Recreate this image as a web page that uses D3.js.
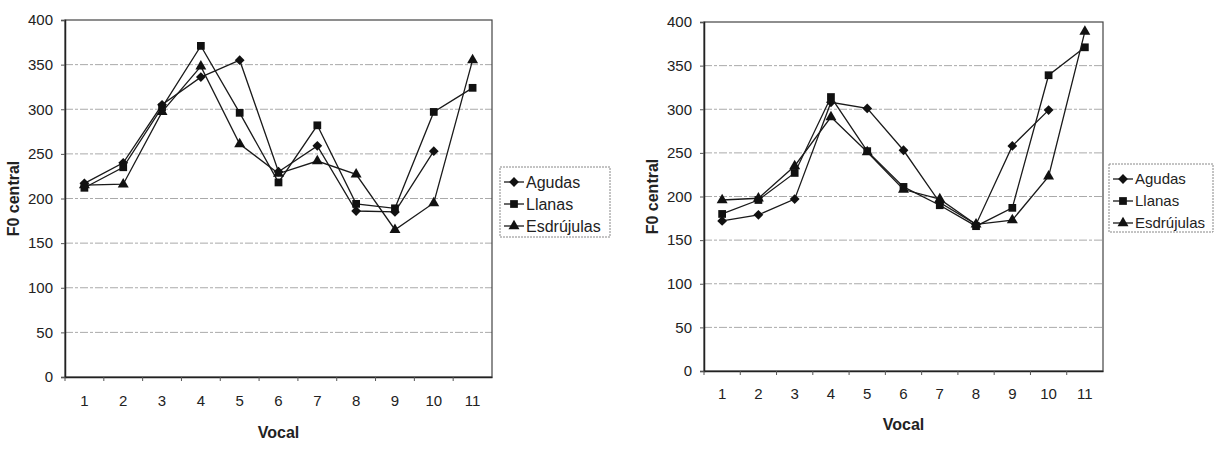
<!DOCTYPE html>
<html>
<head>
<meta charset="utf-8">
<script src="https://cdn.jsdelivr.net/npm/d3@7"></script>
<style>
  body { margin: 0; background: #fff; }
  text { font-family: "Liberation Sans", Arial, sans-serif; fill: #222; }
</style>
</head>
<body>
<script>
var vocales = ["1", "2", "3", "4", "5", "6", "7", "8", "9", "10", "11"];
var seriesNames = ["Agudas", "Llanas", "Esdrújulas"];
var yTicks = [0, 50, 100, 150, 200, 250, 300, 350, 400];

// left chart
var agudasA = [217, 240, 305, 336, 355, 230, 259, 186, 185, 253, null];
var llanasA = [212, 235, 302, 371, 296, 218, 282, 194, 189, 297, 324];
var esdrujulasA = [215, 216, 297, 348, 261, 228, 242, 227, 165, 195, 355];

// right chart
var agudasB = [172, 179, 197, 308, 301, 253, 193, 168, 258, 299, null];
var llanasB = [180, 196, 227, 314, 252, 211, 190, 166, 187, 339, 371];
var esdrujulasB = [196, 198, 235, 291, 251, 208, 197, 168, 173, 223, 389];

var svg = d3.select('body').append('svg')
    .attr('width', 1225)
    .attr('height', 457);

// rhombus like the Excel marker (d3's diamond is too narrow)
var rhombus = {
    draw: function (ctx, size) {
        var r = Math.sqrt(size / 2);
        ctx.moveTo(0, -r);
        ctx.lineTo(r, 0);
        ctx.lineTo(0, r);
        ctx.lineTo(-r, 0);
        ctx.closePath();
    }
};
var symbols = [rhombus, d3.symbolSquare, d3.symbolTriangle];
var symSizes = [48, 60, 52];

function drawChart(opt, series) {
    var g = svg.append('g');

    var x = d3.scaleBand()
        .domain(vocales)
        .range([opt.left, opt.right]);

    var y = d3.scaleLinear()
        .domain([0, 400])
        .range([opt.bottom, opt.top]);

    // grid lines
    g.selectAll('.grid')
        .data(yTicks.slice(1, -1))
        .enter()
        .append('line')
        .attr('x1', opt.left)
        .attr('x2', opt.right)
        .attr('y1', function (d) { return y(d); })
        .attr('y2', function (d) { return y(d); })
        .attr('stroke', '#aaa')
        .attr('stroke-width', 1)
        .attr('stroke-dasharray', '8,2,3,2');

    // frame
    g.append('rect')
        .attr('x', opt.left)
        .attr('y', opt.top)
        .attr('width', opt.right - opt.left)
        .attr('height', opt.bottom - opt.top)
        .attr('fill', 'none')
        .attr('stroke', '#444')
        .attr('stroke-width', 1.2);

    // Y-axis
    var yAxis = d3.axisLeft(y)
        .tickValues(yTicks)
        .tickSize(4)
        .tickPadding(8);
    var ya = g.append('g')
        .attr('transform', 'translate(' + opt.left + ',0)')
        .call(yAxis);
    ya.select('.domain').attr('stroke', '#222').attr('stroke-width', 1.5);
    ya.selectAll('.tick line').attr('stroke', '#555');
    ya.selectAll('text').style('font-size', '15px').attr('fill', '#222');

    // X-axis
    var xAxis = d3.axisBottom(x)
        .tickSize(0)
        .tickPadding(opt.xPad);
    var xa = g.append('g')
        .attr('transform', 'translate(0,' + opt.bottom + ')')
        .call(xAxis);
    xa.select('.domain').attr('stroke', '#222').attr('stroke-width', 1.5);
    xa.selectAll('text').style('font-size', '15px').attr('fill', '#222');

    // small ticks between categories
    g.selectAll('.xtick')
        .data(vocales)
        .enter()
        .append('line')
        .attr('x1', function (d) { return x(d); })
        .attr('x2', function (d) { return x(d); })
        .attr('y1', opt.bottom)
        .attr('y2', opt.bottom + 4)
        .attr('stroke', '#555');

    // axis labels
    g.append('text')
        .attr('x', (opt.left + opt.right) / 2)
        .attr('y', opt.vocalY)
        .attr('dy', '0.35em')
        .style('text-anchor', 'middle')
        .style('font-size', '16px')
        .style('font-weight', 'bold')
        .text('Vocal');

    g.append('text')
        .attr('transform', 'translate(' + opt.ylabelX + ',' + ((opt.top + opt.bottom) / 2) + ') rotate(-90)')
        .attr('dy', '0.35em')
        .style('text-anchor', 'middle')
        .style('font-size', '16px')
        .style('font-weight', 'bold')
        .text('F0 central');

    var line = d3.line()
        .defined(function (d) { return d != null; })
        .x(function (d, i) { return x(vocales[i]) + x.bandwidth() / 2; })
        .y(function (d) { return y(d); });

    series.forEach(function (vals, k) {
        g.append('path')
            .datum(vals)
            .attr('d', line)
            .attr('fill', 'none')
            .attr('stroke', '#1a1a1a')
            .attr('stroke-width', 1.3);

        g.selectAll('.m' + k)
            .data(vals.map(function (v, i) { return {v: v, i: i}; })
                .filter(function (d) { return d.v != null; }))
            .enter()
            .append('path')
            .attr('d', d3.symbol().type(symbols[k]).size(symSizes[k]))
            .attr('transform', function (d) {
                return 'translate(' + (x(vocales[d.i]) + x.bandwidth() / 2) + ',' + y(d.v) + ')';
            })
            .attr('fill', '#111');
    });

    // legend
    var lg = g.append('g');
    lg.append('rect')
        .attr('x', opt.legX)
        .attr('y', opt.legY)
        .attr('width', opt.legW)
        .attr('height', opt.legH)
        .attr('fill', '#fff')
        .attr('stroke', '#888')
        .attr('stroke-dasharray', '2,1');

    seriesNames.forEach(function (name, k) {
        var cy = opt.legY + 15 + k * 22;
        lg.append('line')
            .attr('x1', opt.legX + 4)
            .attr('x2', opt.legX + 24)
            .attr('y1', cy)
            .attr('y2', cy)
            .attr('stroke', '#1a1a1a')
            .attr('stroke-width', 1.3);
        lg.append('path')
            .attr('d', d3.symbol().type(symbols[k]).size(symSizes[k]))
            .attr('transform', 'translate(' + (opt.legX + 14) + ',' + cy + ')')
            .attr('fill', '#111');
        lg.append('text')
            .attr('x', opt.legX + 26)
            .attr('y', cy)
            .attr('dy', '0.35em')
            .style('font-size', opt.legFont)
            .text(name);
    });
}

drawChart({left: 65, right: 492, top: 20, bottom: 377, xPad: 18, vocalY: 432, ylabelX: 13,
        legX: 500, legY: 167, legW: 110, legH: 70, legFont: '16px'},
    [agudasA, llanasA, esdrujulasA]);

drawChart({left: 704, right: 1103, top: 22, bottom: 371, xPad: 17, vocalY: 424, ylabelX: 652,
        legX: 1109, legY: 164, legW: 104, legH: 68, legFont: '15px'},
    [agudasB, llanasB, esdrujulasB]);
</script>
</body>
</html>
